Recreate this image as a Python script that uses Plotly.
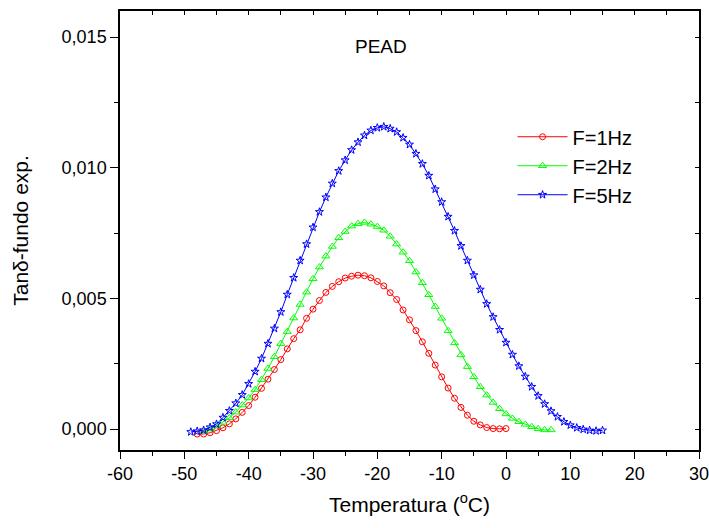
import plotly.graph_objects as go

# Temperature (°C) for each series
t_1hz = list(range(-48, 1))
t_2hz = list(range(-47, 8))
t_5hz = list(range(-49, 16))

# Tan delta - background
tan_1hz = [-0.00019, -0.00019, -0.00014, -0.00006, 0.00005, 0.00020, 0.00039, 0.00064, 0.00090, 0.00122,
           0.00156, 0.00191, 0.00228, 0.00266, 0.00307, 0.00346, 0.00380, 0.00424, 0.00459, 0.00492,
           0.00523, 0.00546, 0.00564, 0.00578, 0.00585, 0.00589, 0.00587, 0.00579, 0.00565, 0.00548,
           0.00522, 0.00496, 0.00456, 0.00418, 0.00377, 0.00334, 0.00290, 0.00245, 0.00200, 0.00157,
           0.00118, 0.00083, 0.00053, 0.00030, 0.00016, 0.00006, 0.00002, 0.00001, 0.00002]

tan_2hz = [-0.00008, 0.00000, 0.00012, 0.00026, 0.00043, 0.00065, 0.00092, 0.00119, 0.00151, 0.00189,
           0.00232, 0.00277, 0.00327, 0.00373, 0.00425, 0.00477, 0.00524, 0.00575, 0.00620, 0.00662,
           0.00699, 0.00732, 0.00756, 0.00777, 0.00786, 0.00791, 0.00784, 0.00775, 0.00761, 0.00738,
           0.00708, 0.00677, 0.00644, 0.00601, 0.00560, 0.00514, 0.00469, 0.00424, 0.00376, 0.00330,
           0.00284, 0.00239, 0.00200, 0.00162, 0.00130, 0.00102, 0.00078, 0.00058, 0.00041, 0.00028,
           0.00018, 0.00009, 0.00001, -0.00003, -0.00003]

tan_5hz = [-0.00011, -0.00008, -0.00004, 0.00007, 0.00019, 0.00044, 0.00070, 0.00099, 0.00131, 0.00173,
           0.00220, 0.00270, 0.00327, 0.00385, 0.00448, 0.00515, 0.00579, 0.00645, 0.00708, 0.00772,
           0.00831, 0.00887, 0.00940, 0.00988, 0.01029, 0.01068, 0.01098, 0.01124, 0.01143, 0.01153,
           0.01157, 0.01150, 0.01137, 0.01115, 0.01089, 0.01054, 0.01015, 0.00970, 0.00918, 0.00869,
           0.00813, 0.00759, 0.00701, 0.00645, 0.00589, 0.00534, 0.00479, 0.00429, 0.00380, 0.00331,
           0.00285, 0.00241, 0.00201, 0.00162, 0.00127, 0.00096, 0.00069, 0.00047, 0.00028, 0.00015,
           0.00005, -0.00001, -0.00005, -0.00007, -0.00005]

series_names = ["F=1Hz", "F=2Hz", "F=5Hz"]
series_colors = ["#FF0000", "#00FF00", "#0000FF"]
series_symbols = ["circle-open", "triangle-up-open", "star-open"]

x_tickvals = [-60, -50, -40, -30, -20, -10, 0, 10, 20, 30]
x_ticktext = ["-60", "-50", "-40", "-30", "-20", "-10", "0", "10", "20", "30"]
y_tickvals = [0.0, 0.005, 0.010, 0.015]
y_ticktext = ["0,000", "0,005", "0,010", "0,015"]

FONT = "Arial, 'Liberation Sans', sans-serif"
XR = [-60, 30]
YR = [-0.0008, 0.016]

fig = go.Figure()
sizes = [6, 7, 6]
for xs, ys, name, col, sym, sz in zip([t_1hz, t_2hz, t_5hz], [tan_1hz, tan_2hz, tan_5hz],
                                      series_names, series_colors, series_symbols, sizes):
    fig.add_trace(go.Scatter(
        x=xs, y=ys, name=name, mode="lines+markers",
        line=dict(color=col, width=1),
        marker=dict(symbol=sym, size=sz, color=col, line=dict(color=col, width=1)),
    ))

# dummy trace for mirrored (top/right) axes
fig.add_trace(go.Scatter(x=[None], y=[None], xaxis="x2", yaxis="y2", showlegend=False, hoverinfo="skip"))

axis_common = dict(showline=True, linecolor="black", linewidth=1.5, showgrid=False, zeroline=False,
                   tickcolor="black", tickwidth=1.2, automargin=False)

fig.update_layout(
    width=709, height=528,
    margin=dict(l=120, r=10, t=11, b=78),
    paper_bgcolor="white", plot_bgcolor="white",
    font=dict(family=FONT, color="black", size=18),
    xaxis=dict(range=XR, tickvals=x_tickvals, ticktext=x_ticktext, ticks="outside", ticklen=7,
               minor=dict(dtick=5, tick0=0, ticks="outside", ticklen=4, tickcolor="black", tickwidth=1.2),
               tickfont=dict(size=18), ticklabeloverflow="allow",
               title=dict(text="Temperatura (<sup>o</sup>C)", font=dict(size=21), standoff=14),
               **axis_common),
    yaxis=dict(range=YR, tickvals=y_tickvals, ticktext=y_ticktext, ticks="outside", ticklen=8,
               minor=dict(dtick=0.0025, tick0=0, ticks="outside", ticklen=4, tickcolor="black", tickwidth=1.2),
               tickfont=dict(size=18),
               title=dict(text="Tanδ-fundo exp.", font=dict(size=21), standoff=27),
               **axis_common),
    xaxis2=dict(range=XR, overlaying="x", side="top", tickvals=x_tickvals, showticklabels=False,
                ticks="inside", ticklen=4,
                minor=dict(dtick=5, tick0=0, ticks="inside", ticklen=4, tickcolor="black", tickwidth=1.2),
                **axis_common),
    yaxis2=dict(range=YR, overlaying="y", side="right", tickvals=y_tickvals, showticklabels=False,
                ticks="inside", ticklen=4,
                minor=dict(dtick=0.0025, tick0=0, ticks="inside", ticklen=4, tickcolor="black", tickwidth=1.2),
                **axis_common),
    legend=dict(x=0.678, y=0.758, xanchor="left", yanchor="top", bgcolor="rgba(0,0,0,0)",
                font=dict(size=20), tracegroupgap=0, itemwidth=50),
    annotations=[dict(text="PEAD", xref="paper", yref="paper", x=0.451, y=0.947,
                      showarrow=False, font=dict(size=19))],
)

fig.write_html("out.html")
